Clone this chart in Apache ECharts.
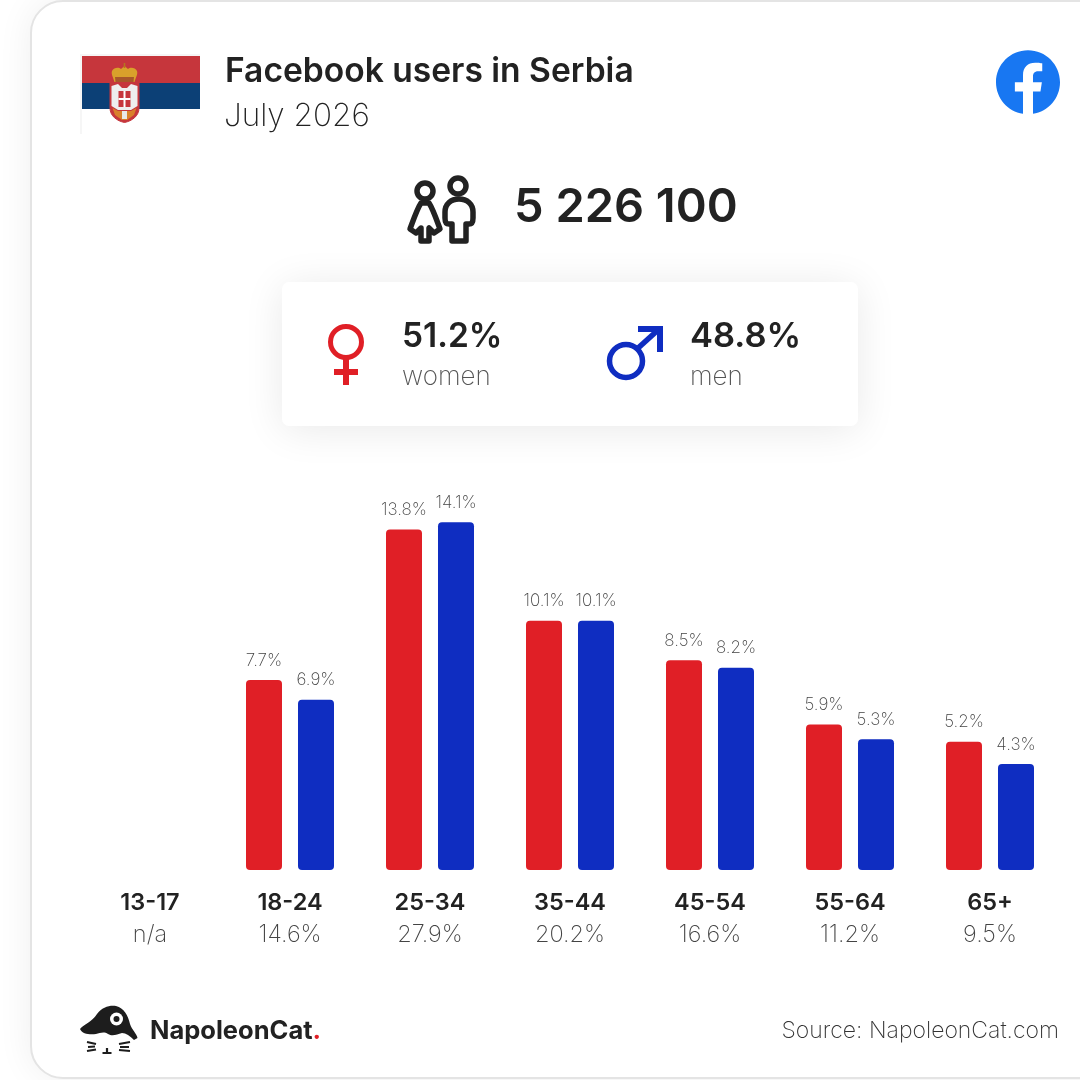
<!DOCTYPE html>
<html><head><meta charset="utf-8">
<style>html,body{margin:0;padding:0;background:#fff}#c{width:1080px;height:1080px}</style>
<script src="https://cdn.jsdelivr.net/npm/echarts@6/dist/echarts.min.js"></script>
</head><body><div id="c"></div>
<script>
const categories = ['13-17','18-24','25-34','35-44','45-54','55-64','65+'];
const totals = ['n/a','14.6%','27.9%','20.2%','16.6%','11.2%','9.5%'];
const women = [null,7.7,13.8,10.1,8.5,5.9,5.2];
const men = [null,6.9,14.1,10.1,8.2,5.3,4.3];
const titleText = 'Facebook users in Serbia';
const dateText = 'July 2026';
const totalUsers = '5 226 100';
const womenShare = '51.2%';
const menShare = '48.8%';
const sourceText = 'Source: NapoleonCat.com';

const F = 'Inter', DARK = '#222222', GREY = '#6f6f6f', RED = '#e01f26', BLUE = '#0f2dc1';
let pathId = 0;
const pathType = d => { const n = 'svgPath' + (pathId++); echarts.graphic.registerShape(n, echarts.graphic.extendPath(d, {})); return n; };
const txt = (x,y,text,size,weight,fill,align) => ({type:'text',x,y,silent:true,style:{text,fontFamily:F,fontSize:size,fontWeight:weight,fill,align:align||'left',verticalAlign:'middle'}});
const stroke = (d,w,col) => ({type:pathType(d),silent:true,style:{fill:'none',stroke:col,lineWidth:w,lineJoin:'round'}});
const solid = (d,col) => ({type:pathType(d),silent:true,style:{fill:col}});
const circ = (cx,cy,r,style) => ({type:'circle',silent:true,shape:{cx,cy,r},style});
const box = (x,y,w,h,fill,r) => ({type:'rect',silent:true,shape:{x,y,width:w,height:h,r:r||0},style:{fill}});

const graphic = [
  // card
  {type:'rect',silent:true,z:-10,shape:{x:31,y:1,width:1150,height:1077,r:32},
   style:{fill:'#fff',stroke:'#e4e4e4',lineWidth:2,shadowBlur:36,shadowColor:'rgba(0,0,0,0.07)'}},
  // flag
  box(80,54,120,80,'#f6f6f6'), box(82,56,118,78,'#fff'),
  box(82,56,118,27,'#c6363c'), box(82,83,118,26,'#0c4076'),
  solid('M112,71 C114,67 119,67 121,69 L124.5,66 L128,69 C130,67 135,67 137,71 C138,74 136,77 134.5,82 H114.5 C113,77 111,74 112,71 Z','#d9a02b'),
  solid('M115,77 H134 L133.5,82 H115.5 Z','#a8572a'),
  solid('M123.7,63 h1.6 v5 h-1.6 Z','#b5761e'),
  {type:pathType('M110,83 H139 V108 C139,116 132,121 124.5,122.5 C117,121 110,116 110,108 Z'),silent:true,style:{fill:'#c6363c',stroke:'#c6363c',lineWidth:1}},
  solid('M111.5,86 L118,84 L122,88 H127 L131,84 L137.5,86 V106 L131,110 H118 L111.5,106 Z','#eeeeee'),
  box(118.5,91,12,16,'#c6363c'), box(123.5,91,2,16,'#fff'), box(118.5,98,12,2,'#fff'),
  solid('M112.5,108 L118,111 H131 L136.5,108 L134,115 L127,120 H122 L115,115 Z','#d9802b'),
  box(122,111,5,8,'#e8e8e8'),
  // title
  txt(225,72,titleText,33.6,600,'#222'),
  txt(224,117,dateText,31.5,200,'#222'),
  // facebook
  {type:pathType('M24 12.073c0-6.627-5.373-12-12-12s-12 5.373-12 12c0 5.99 4.388 10.954 10.125 11.854v-8.385H7.078v-3.47h3.047V9.43c0-3.007 1.792-4.669 4.533-4.669 1.312 0 2.686.235 2.686.235v2.953H15.83c-1.491 0-1.956.925-1.956 1.874v2.25h3.328l-.532 3.47h-2.796v8.385C19.612 23.027 24 18.062 24 12.073z'),silent:true,x:996,y:50,scaleX:64/24,scaleY:64/24,style:{fill:'#1877f2'}},
  // people icon
  circ(425,191,8,{fill:'none',stroke:DARK,lineWidth:5.5}),
  circ(458,186,8,{fill:'none',stroke:DARK,lineWidth:5.5}),
  stroke('M421,203 H429 C433,209 437,221 440,229 L434,233 L429,228 V241 H421 V228 L416,233 L410,229 C413,221 417,209 421,203 Z',5.5,DARK),
  stroke('M452,224 H449 C446,224 445,222 445,218 V212 C445,204 451,199 459,199 C467,199 473,204 473,212 V218 C473,222 472,224 469,224 H466 V241 H452 Z',5.5,DARK),
  txt(514,208,totalUsers,47,600,'#222'),
  // stat box
  {type:'rect',silent:true,shape:{x:282,y:282,width:576,height:144,r:7},style:{fill:'#fff',shadowBlur:40,shadowColor:'rgba(0,0,0,0.09)',shadowOffsetY:4}},
  circ(346,342,15.5,{fill:'none',stroke:RED,lineWidth:5}),
  box(343,359,6,26,RED), box(334,369,24,6,RED),
  circ(626,361,16.5,{fill:'none',stroke:BLUE,lineWidth:5.5}),
  stroke('M637,349 L658,330',5.5,BLUE),
  solid('M638,326 H663 V352 H657 V332 H638 Z',BLUE),
  txt(402,337,womenShare,33.5,600,'#222'),
  txt(402,377,'women',26,200,'#555'),
  txt(690,337,menShare,34.5,600,'#222'),
  txt(690,377,'men',26,200,'#555'),
  // logo
  solid('M80,1029 C84,1024 92,1022 97,1014 C102,1007 110,1005 116,1006 C124,1008 128,1015 130,1024 C132,1030 137,1034 137.5,1038 L134,1040 C130,1036 126,1033 122,1033 C117,1034 113,1037 108,1034 C104,1031 100,1033 96,1034 C90,1035 82,1034 80,1029 Z','#1d1d1d'),
  circ(116.5,1019,6.5,{fill:'#fff'}), circ(116.5,1019,3,{fill:'#1d1d1d'}),
  stroke('M87,1042 L96,1044 M88,1047 L95,1046.5 M87,1051 L96,1049.5 M119,1044 L130,1042 M120,1047 L129,1047 M119,1050 L130,1051 M107,1048 V1052 M102.5,1053 H111.5',2.2,'#1d1d1d'),
  {type:'text',x:150,y:1031,silent:true,style:{text:'{a|NapoleonCat}{b|.}',verticalAlign:'middle',rich:{a:{fontFamily:F,fontSize:25.5,fontWeight:700,fill:'#222'},b:{fontFamily:F,fontSize:25.5,fontWeight:700,fill:'#e01f26'}}}},
  txt(1059,1031,sourceText,23,200,'#333','right')
];

const valueLabel = {show:true,position:'top',distance:11,formatter:p=>p.value+'%',fontFamily:F,fontSize:17,fontWeight:200,color:'#444'};
const chart = echarts.init(document.getElementById('c'),null,{renderer:'canvas'});
chart.setOption({
  animation:false,
  backgroundColor:'#fff',
  graphic:{elements:graphic},
  grid:{left:80,width:980,top:500,height:370},
  xAxis:{type:'category',data:categories,axisLine:{show:false},axisTick:{show:false},
    axisLabel:{interval:0,margin:17,formatter:(v,i)=>`{a|${v}}\n{b|${totals[i]}}`,
      rich:{a:{fontFamily:F,fontSize:23.5,fontWeight:600,color:'#222',lineHeight:32,align:'center'},
            b:{fontFamily:F,fontSize:23.5,fontWeight:200,color:'#444',lineHeight:32,align:'center'}}}},
  yAxis:{type:'value',min:0,max:15,show:false,splitLine:{show:false}},
  series:[
    {name:'women',type:'bar',data:women,barWidth:36,barGap:'44.44%',itemStyle:{color:RED,borderRadius:4},label:valueLabel},
    {name:'men',type:'bar',data:men,barWidth:36,itemStyle:{color:BLUE,borderRadius:4},label:valueLabel}
  ]
});
</script></body></html>
